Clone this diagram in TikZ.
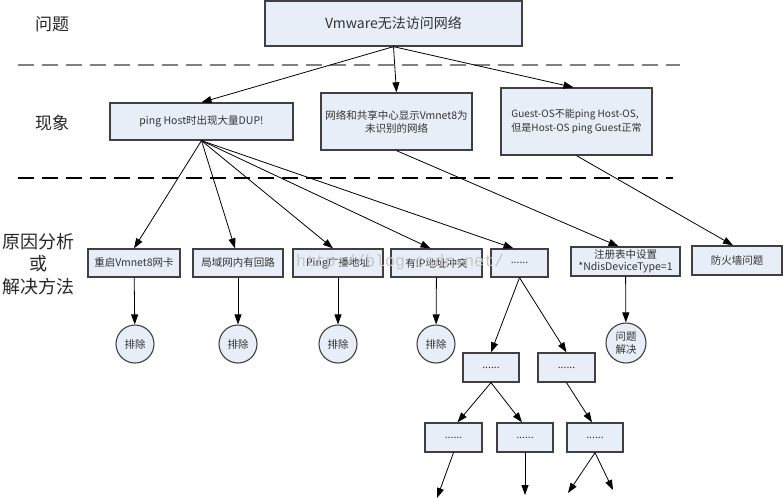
\documentclass[tikz,border=0pt]{standalone}
\usepackage{fontspec}
\setmainfont{Noto Sans CJK SC}
\newfontfamily\markfont{Liberation Mono}
\usetikzlibrary{arrows.meta}
\definecolor{boxfill}{HTML}{E8EEF7}
\definecolor{boxline}{HTML}{404040}
\definecolor{inktext}{HTML}{333333}

\begin{document}
\begin{tikzpicture}[
  x=1pt, y=-1pt,
  box/.style={draw=boxline, line width=1.3pt, fill=boxfill, text=inktext,
    inner sep=1pt, font=\fontsize{10.5}{13}\selectfont},
  endnode/.style={circle, draw=boxline, line width=1.1pt, fill=boxfill,
    text=inktext, inner sep=0pt, font=\fontsize{10.5}{13}\selectfont},
  link/.style={line width=0.8pt, -{Triangle[length=10pt,width=7pt]}},
  band/.style={line width=2pt, gray!100!white, dash pattern=on 16pt off 8pt},
  bandlow/.style={line width=1.5pt, black, dash pattern=on 16pt off 8pt},
  rowlabel/.style={text=black!85, font=\fontsize{17}{22}\selectfont, align=center}
]
  % page frame: 783 x 500 px, y grows downwards
  \useasboundingbox (0,0) rectangle (783,500);

  % row separators
  \draw[band] (18,65) -- (680,65);
  \draw[bandlow] (18,178) -- (673,178);

  % row labels on the left
  \node[rowlabel] (lq) at (52,24) {问题};
  \node[rowlabel] (lp) at (52,123) {现象};
  \node[rowlabel, font=\fontsize{18}{22.5}\selectfont] (lc) at (38,264)
    {原因分析\\或\\解决方法};

  % the problem
  \node[box, minimum width=257, minimum height=45,
    font=\fontsize{14}{16}\selectfont] (q) at (393.5,23.5) {Vmware无法访问网络};

  % phenomena
  \node[box, minimum width=183, minimum height=37] (p1) at (201.5,121.5)
    {ping Host时出现大量DUP!};
  \node[box, minimum width=151, minimum height=57, align=center] (p2) at (396.5,121.5)
    {网络和共享中心显示Vmnet8为\\未识别的网络};
  \node[box, minimum width=151, minimum height=67, align=left,
    font=\fontsize{10}{14}\selectfont] (p3) at (576.5,121.5)
    {Guest-OS不能ping Host-OS,\\但是Host-OS ping Guest正常};

  % causes / fixes
  \node[box, minimum width=92, minimum height=28] (c1) at (134,263) {重启Vmnet8网卡};
  \node[box, minimum width=90, minimum height=28] (c2) at (238,263) {局域网内有回路};
  \node[box, minimum width=90, minimum height=28] (c3) at (338,263) {Ping广播地址};
  \node[box, minimum width=91, minimum height=28] (c4) at (436.5,263) {有IP地址冲突};
  \node[box, minimum width=57, minimum height=28] (c5) at (519.5,263) {......};
  \node[box, minimum width=109, minimum height=29, align=center,
    font=\fontsize{10.5}{12}\selectfont] (reg) at (625.5,261.5)
    {注册表中设置\\*NdisDeviceType=1};
  \node[box, minimum width=90, minimum height=29] (fw) at (737,260.5) {防火墙问题};

  % outcomes
  \node[endnode, minimum size=38] (e1) at (135,344) {排除};
  \node[endnode, minimum size=38] (e2) at (238,344) {排除};
  \node[endnode, minimum size=38] (e3) at (338,344) {排除};
  \node[endnode, minimum size=38] (e4) at (436,344) {排除};
  \node[endnode, minimum size=40, align=center,
    font=\fontsize{10.5}{12.5}\selectfont] (ok) at (626,343) {问题\\解决};

  % further unknown branches
  \node[box, minimum width=56, minimum height=29] (a) at (491,367.5) {......};
  \node[box, minimum width=57, minimum height=29] (b) at (566.5,367.5) {......};
  \node[box, minimum width=57, minimum height=29] (ca) at (453.5,437.5) {......};
  \node[box, minimum width=56, minimum height=29] (cb) at (525,437.5) {......};
  \node[box, minimum width=56, minimum height=29] (cc) at (595,437.5) {......};

  % loose ends at the bottom
  \coordinate (t1) at (437,498);
  \coordinate (t2) at (525,495);
  \coordinate (t3) at (568,493);
  \coordinate (t4) at (613,490);

  % connectors
  \draw[link] (q.south) -- (p1.north);
  \draw[link] (q.south) -- (p2.north);
  \draw[link] (q.south) -- ([xshift=-3pt]p3.north);

  \draw[link] (p1.south) -- (c1.north);
  \draw[link] (p1.south) -- ([xshift=-3pt]c2.north);
  \draw[link] (p1.south) -- ([xshift=-5pt]c3.north);
  \draw[link] (p1.south) -- ([xshift=-6pt]c4.north);
  \draw[link] (p1.south) -- ([xshift=-6pt]c5.north);
  \draw[link] (p2.south) -- ([xshift=-7pt]reg.north);
  \draw[link] (p3.south) -- ([xshift=-4pt]fw.north);

  \draw[link] (c1) -- (e1);
  \draw[link] (c2) -- (e2);
  \draw[link] (c3) -- (e3);
  \draw[link] (c4) -- (e4);
  \draw[link] (reg) -- (ok);

  \draw[link] (c5.south) -- (a.north);
  \draw[link] (c5.south) -- (b.north);
  \draw[link] (a.south) -- ([xshift=4pt]ca.north);
  \draw[link] (a.south) -- ([xshift=-3pt]cb.north);
  \draw[link] (b.south) -- ([xshift=-3pt]cc.north);

  \draw[link] (ca.south) -- (t1);
  \draw[link] (cb.south) -- (t2);
  \draw[link] (cc.south) -- (t3);
  \draw[link] (cc.south) -- (t4);

  % blog watermark over the cause row
  \node[text=gray!45, font=\markfont\fontsize{16.5}{18}\selectfont] (mark) at (400,262)
    {http://blog.csdn.net/};
\end{tikzpicture}
\end{document}
